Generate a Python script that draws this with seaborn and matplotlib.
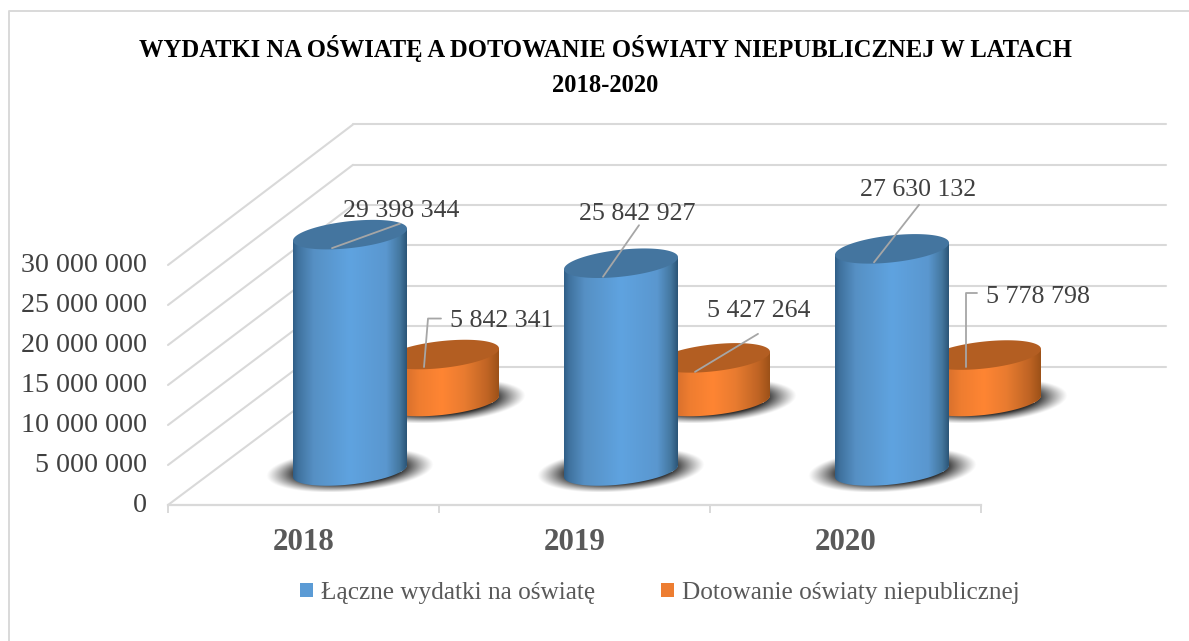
import numpy as np
import pandas as pd
import matplotlib
matplotlib.use("Agg")
import matplotlib.pyplot as plt
import seaborn as sns
from matplotlib.colors import LinearSegmentedColormap
from matplotlib.lines import Line2D
from matplotlib.patches import ConnectionPatch, Patch, PathPatch
from matplotlib.path import Path
from matplotlib.transforms import Affine2D, IdentityTransform

# ---------- data ----------
YEARS = ["2018", "2019", "2020"]
SERIES_NAMES = ["Łączne wydatki na oświatę", "Dotowanie oświaty niepublicznej"]
TOTAL_SPENDING = [29398344, 25842927, 27630132]
NON_PUBLIC_SUBSIDY = [5842341, 5427264, 5778798]
Y_TICKS = [0, 5000000, 10000000, 15000000, 20000000, 25000000, 30000000]
TITLE = "WYDATKI NA OŚWIATĘ A DOTOWANIE OŚWIATY NIEPUBLICZNEJ W LATACH\n2018-2020"

# ---------- layout (pixels) ----------
W, H = 1189, 641
FONT = "Liberation Serif"
GREY = "#595959"
LABEL_COLOR = "#404040"
GRID = "#d9d9d9"
LEADER = "#a6a6a6"
Y_MAX = 30000000
FRONT = dict(x0=168, x1=981, y0=505, y1=265)
WALL = dict(x0=353, x1=1166, y0=366.5, y1=124.5)
CAT_PX = (FRONT["x1"] - FRONT["x0"]) / 3
PX_PER_VAL = 8.04e-6
CYL_W_PX, CYL_B_PX, CYL_S_PX = 114, 13.5, 6
BLUE_CX0, BLUE_Y0 = 350, 471
ORANGE_CX0, ORANGE_Y0 = 442, 401.5

# leader geometry relative to the top-ellipse centre, and label position
BLUE_LEADERS = [
    dict(pts=[(-18, 13.5), (50, -11)], text=(51, -26), ha="center"),
    dict(pts=[(-18, 13.5), (18, -38)], text=(16, -52), ha="center"),
    dict(pts=[(-18, 13.5), (27, -44)], text=(26, -61), ha="center"),
]
ORANGE_LEADERS = [
    dict(pts=[(-18, 12.5), (-14, -36), (-1, -36)], text=(8, -36), ha="left"),
    dict(pts=[(-18, 14), (45, -24)], text=(46, -49), ha="center"),
    dict(pts=[(-18, 12), (-18, -62), (-7, -62)], text=(2, -61), ha="left"),
]

sns.set_theme(style="white")
plt.rcParams["font.family"] = [FONT, "DejaVu Serif"]
fig = plt.figure(figsize=(W / 100, H / 100), dpi=100, facecolor="white")


def axes_px(x0, x1, y_bottom, y_top, z):
    ax = fig.add_axes([x0 / W, 1 - y_bottom / H, (x1 - x0) / W, (y_bottom - y_top) / H], zorder=z)
    ax.patch.set_alpha(0)
    return ax


# chart frame
fig.add_artist(Line2D([9 / W, 9 / W, 1], [0, 1 - 11 / H, 1 - 11 / H],
                      color="#d9d9d9", lw=1.4, transform=fig.transFigure))

# back wall
wall = axes_px(WALL["x0"], WALL["x1"], WALL["y0"], WALL["y1"], 1)
wall.set_ylim(0, Y_MAX)
wall.set_yticks(Y_TICKS)
wall.set_xticks([])
wall.set_yticklabels([])
wall.tick_params(length=0)
wall.grid(True, axis="y", color=GRID, lw=1.5, clip_on=False)
for s in wall.spines.values():
    s.set_visible(False)

# front plane with the axis labels
front = axes_px(FRONT["x0"], FRONT["x1"], FRONT["y0"], FRONT["y1"], 1)
front.set_xlim(-0.5, 2.5)
front.set_ylim(0, Y_MAX)
for name, s in front.spines.items():
    s.set_visible(name == "bottom")
front.spines["bottom"].set_color(GRID)
front.spines["bottom"].set_linewidth(1.6)
front.set_yticks(Y_TICKS)
front.set_yticklabels([f"{v:,}".replace(",", " ") for v in Y_TICKS],
                      fontsize=20.2, color=LABEL_COLOR)
front.tick_params(axis="y", length=0, pad=15)
for lab in front.get_yticklabels():
    lab.set_verticalalignment("center_baseline")
    lab.set_transform(lab.get_transform() + Affine2D().translate(0, 2))
front.set_xticks([-0.5, 0.5, 1.5, 2.5])
front.set_xticklabels([])
front.set_xticks([0, 1, 2], minor=True)
front.set_xticklabels(YEARS, minor=True, fontsize=22.3, fontweight="bold", color=GREY)
front.tick_params(axis="x", which="major", length=5.8, width=1.4, color=GRID, bottom=True)
front.tick_params(axis="x", which="minor", length=0, pad=16.5)

# diagonal side-wall grid lines linking the two planes
for v in Y_TICKS:
    fig.add_artist(ConnectionPatch((-0.5, v), (0, v), coordsA=front.transData,
                                   coordsB=wall.get_yaxis_transform(),
                                   color=GRID, lw=1.5, zorder=0.5))


def cylinder_path(cx, top, half_w, b, s):
    """Body outline of a sheared cylinder, in data coordinates."""
    t = np.linspace(np.pi, 2 * np.pi, 80)
    xs = cx + half_w * np.cos(t)
    ys = b * np.sin(t) + s * np.cos(t)
    pts = np.column_stack([xs, ys])
    pts = np.vstack([pts, [cx + half_w, top + s], [cx - half_w, top - s], pts[0]])
    return Path(pts)


def ellipse_path(cx, cy, half_w, b, s):
    t = np.linspace(0, 2 * np.pi, 160)
    return Path(np.column_stack([cx + half_w * np.cos(t), cy + b * np.sin(t) + s * np.cos(t)]))


def draw_series(name, values, cx0, y0, z, body_cols, top_col, body_base, leaders, shadow_ext):
    left = cx0 - CAT_PX / 2
    y_lo = -8000000
    y_hi = 36000000
    ax = axes_px(left, left + 3 * CAT_PX,
                 y0 - y_lo * PX_PER_VAL, y0 - y_hi * PX_PER_VAL, z)
    df = pd.DataFrame({"year": YEARS, "value": values})
    sns.barplot(data=df, x="year", y="value", ax=ax, color=body_base,
                width=CYL_W_PX / CAT_PX, saturation=1, legend=False)
    ax.set_xlim(-0.5, 2.5)
    ax.set_ylim(y_lo, y_hi)
    ax.axis("off")

    b = CYL_B_PX / PX_PER_VAL
    s = CYL_S_PX / PX_PER_VAL
    cmap = LinearSegmentedColormap.from_list("body", body_cols)
    grad = np.linspace(0, 1, 256)[None, :]

    # soft ground shadow, tilted like the cylinder base
    half_w_px, half_h_px, down_px, tilt = shadow_ext
    gx, gy = np.meshgrid(np.linspace(-1, 1, 320), np.linspace(-1, 1, 160))
    gy_t = gy - tilt * gx
    r = np.sqrt(gx ** 2 + gy_t ** 2)
    alpha = np.clip((1 - r) / 0.36, 0, 1) ** 1.15 * 0.82
    shadow = np.zeros(r.shape + (4,))
    shadow[..., 3] = alpha

    for i, bar in enumerate(list(ax.patches)):
        x0, w = bar.get_x(), bar.get_width()
        cx, hw = x0 + w / 2, w / 2
        val = bar.get_height()
        path = cylinder_path(cx, val, hw, b, s)
        sx = half_w_px / CAT_PX
        sy = half_h_px / PX_PER_VAL
        sc = -down_px / PX_PER_VAL
        ax.imshow(shadow, extent=(cx - sx, cx + sx, sc - sy, sc + sy), origin="lower",
                  aspect="auto", zorder=1, interpolation="bilinear")
        bar.set_zorder(2)
        bar.set_clip_path(path, ax.transData)
        im = ax.imshow(grad, extent=(cx - hw, cx + hw, -b - abs(s), val + b), cmap=cmap,
                       aspect="auto", zorder=3, interpolation="bilinear")
        im.set_clip_path(path, ax.transData)
        ax.add_patch(PathPatch(ellipse_path(cx, val, hw, b, s), fc=top_col, ec="none",
                               zorder=4, clip_on=False))
        # leader line and value label, placed from the top-ellipse centre
        ax_px = ax.transData.transform((cx, val))
        pts = np.array(leaders[i]["pts"], float)
        lx = ax_px[0] + pts[:, 0]
        ly = ax_px[1] - pts[:, 1]
        fig.add_artist(Line2D(lx, ly, color=LEADER, lw=1.3, transform=IdentityTransform(),
                              zorder=20))
        tx, ty = leaders[i]["text"]
        fig.text(ax_px[0] + tx, ax_px[1] - ty, f"{values[i]:,}".replace(",", " "),
                 transform=IdentityTransform(), ha=leaders[i]["ha"], va="center_baseline",
                 fontsize=18.6, color=LABEL_COLOR, zorder=21)
    ax.set_xlim(-0.5, 2.5)
    ax.set_ylim(y_lo, y_hi)
    return ax


BLUE_BODY = [(0.0, "#2f5e87"), (0.04, "#3f719d"), (0.18, "#5690c4"), (0.5, "#5fa3e0"),
             (0.82, "#5a97cf"), (0.94, "#44779f"), (1.0, "#2b5577")]
ORANGE_BODY = [(0.0, "#a5561c"), (0.1, "#c9682a"), (0.3, "#ef7d30"), (0.5, "#ff8533"),
               (0.7, "#e87b30"), (0.9, "#bf6424"), (1.0, "#9c5118")]

draw_series(SERIES_NAMES[1], NON_PUBLIC_SUBSIDY, ORANGE_CX0, ORANGE_Y0, 2,
            ORANGE_BODY, "#b35e22", "#ed7d31", ORANGE_LEADERS, (84, 22, 0, 0.26))
draw_series(SERIES_NAMES[0], TOTAL_SPENDING, BLUE_CX0, BLUE_Y0, 3,
            BLUE_BODY, "#44759f", "#5b9bd5", BLUE_LEADERS, (84, 22, -0.5, 0.26))

# title
fig.text(605 / W, 1 - 66 / H, TITLE, ha="center", va="center", fontsize=17.7,
         fontweight="bold", color="black", linespacing=1.68, zorder=30)

# legend
handles = [Patch(fc="#5b9bd5", ec="none"), Patch(fc="#ed7d31", ec="none")]
fig.legend(handles, SERIES_NAMES, loc="center", bbox_to_anchor=(660 / W, 1 - 593 / H),
           ncol=2, frameon=False, fontsize=18.2, labelcolor=GREY, handlelength=0.51,
           handleheight=0.51, handletextpad=0.32, columnspacing=2.6)

fig.savefig("out.png", dpi=100)
